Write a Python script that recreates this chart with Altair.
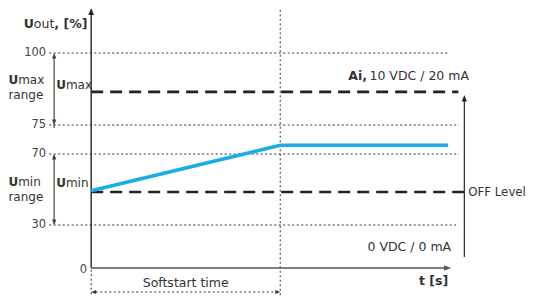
import altair as alt
import pandas as pd

# ---------------- data ----------------
# output curve (time in s, Uout in %)
curve_t = [0, 5, 9.44]
curve_u = [49.3, 71.5, 71.5]

# axis tick values / labels (schematic, non-linear axis)
tick_values = [100, 75, 70, 30]
tick_labels = ["100", "75", "70", "30"]

umax_level = 86.5
umin_level = 48.6
softstart_end = 5

# ---------------- scales ----------------
X = alt.Scale(domain=[-2.2, 11.5], range=[0, 518], nice=False, zero=False)
Y = alt.Scale(domain=[-20, 0, 30, 70, 75, 100, 110],
              range=[288.7, 260, 217, 146, 117, 45, 0], nice=False, zero=False)

FONT = "DejaVu Sans"
TXT = "#333333"


def rules(rows, color, width, dash=None):
    df = pd.DataFrame(rows, columns=["t", "t2", "v", "v2"])
    kw = dict(color=color, strokeWidth=width)
    if dash is not None:
        kw["strokeDash"] = dash
    return alt.Chart(df).mark_rule(**kw).encode(
        x=alt.X("t:Q", scale=X, axis=None),
        x2="t2:Q",
        y=alt.Y("v:Q", scale=Y, axis=None),
        y2="v2:Q",
    )


def heads(rows, path, size, color):
    df = pd.DataFrame(rows, columns=["t", "v"])
    return alt.Chart(df).mark_point(shape=path, filled=True, size=size,
                                    color=color, opacity=1, strokeWidth=0).encode(
        x=alt.X("t:Q", scale=X, axis=None),
        y=alt.Y("v:Q", scale=Y, axis=None),
    )


def texts(rows, weight="normal", align="left", color=TXT, size=12.5):
    df = pd.DataFrame(rows, columns=["t", "v", "label"])
    return alt.Chart(df).mark_text(font=FONT, fontSize=size, fontWeight=weight,
                                   align=align, baseline="middle", color=color).encode(
        x=alt.X("t:Q", scale=X, axis=None),
        y=alt.Y("v:Q", scale=Y, axis=None),
        text="label:N",
    )


UP = "M0,0L0.8,2L-0.8,2Z"
DOWN = "M0,0L0.8,-2L-0.8,-2Z"
RIGHT = "M0,0L-2,0.8L-2,-0.8Z"
LEFT = "M0,0L2,0.8L2,-0.8Z"

layers = []

# dotted guide lines
layers.append(rules([
    [-1.11, 9.44, 100, 100],
    [-1.11, 9.73, 75, 75],
    [-1.11, 9.73, 70, 70],
    [-1.11, 9.65, 30, 30],
    [0, 0, -1.2, -20],
    [softstart_end, softstart_end, 109.6, -20],
    [0.12, softstart_end - 0.12, -16.74, -16.74],
], "#333333", 1, [2, 2.5]))

# heavy dashed levels
layers.append(rules([
    [0, 9.71, umax_level, umax_level],
    [0, 9.87, umin_level, umin_level],
], "#222222", 2.6, [12, 7]))

# axes
layers.append(rules([[0, 0, 0, 108.5]], "#222222", 1.4))
layers.append(rules([[0, 9.35, 0, 0]], "#555555", 1.4))
# right vertical arrow line
layers.append(rules([[9.87, 9.87, 7.67, 84.6]], "#333333", 1.3))
# range arrows
layers.append(rules([[-0.979, -0.979, 74.5, 99.5], [-0.979, -0.979, 30.5, 69.5]],
                    "#555555", 1.3))

# output curve
curve = pd.DataFrame({"t": curve_t, "u": curve_u})
layers.append(alt.Chart(curve).mark_line(color="#1AADE4", strokeWidth=3.6).encode(
    x=alt.X("t:Q", scale=X, axis=None),
    y=alt.Y("u:Q", scale=Y, axis=None),
))

# arrow heads
layers.append(heads([[0, 110]], UP, 49, "#222222"))
layers.append(heads([[9.52, 0]], RIGHT, 49, "#555555"))
layers.append(heads([[9.87, 85.4]], UP, 42, "#222222"))
layers.append(heads([[-0.979, 100], [-0.979, 70]], UP, 30, "#444444"))
layers.append(heads([[-0.979, 75], [-0.979, 30]], DOWN, 30, "#444444"))
layers.append(heads([[0, -16.74]], LEFT, 25, "#333333"))
layers.append(heads([[softstart_end, -16.74]], RIGHT, 25, "#333333"))

# tick labels
tick_rows = [[-1.19, v, s] for v, s in zip(tick_values, tick_labels)]
tick_rows.append([-0.106, -1.4, "0"])
layers.append(texts(tick_rows, align="right", color="#444444", size=11.5))

# "Uout, [%]"
layers.append(texts([[-1.786, 106.44, "U"], [-0.974, 106.44, ", [%]"]],
                    weight="bold", size=12.5))
layers.append(texts([[-1.517, 106.44, "out"]], size=12.5))

# Umax / Umin labels
layers.append(texts([
    [-2.19, 90.6, "U"],
    [-0.926, 88.9, "U"],
    [-2.19, 54.2, "U"],
    [-0.926, 53.66, "U"],
], weight="bold", size=12))
layers.append(texts([
    [-1.932, 90.6, "max"],
    [-2.19, 85.4, "range"],
    [-0.668, 88.9, "max"],
    [-1.932, 54.2, "min"],
    [-2.19, 45.8, "range"],
    [-0.668, 53.66, "min"],
], size=12))

# right-side annotations
layers.append(texts([[6.80, 92.0, "Ai,"]], weight="bold"))
layers.append(texts([[9.44, -9.07, "t [s]"]], weight="bold", align="right"))
layers.append(texts([[7.36, 92.0, "10 VDC / 20 mA"]]))
layers.append(texts([[9.97, umin_level, "OFF Level"]], size=11.8))
layers.append(texts([[9.52, 14.65, "0 VDC / 0 mA"]], align="right"))
layers.append(texts([[softstart_end / 2, -10.47, "Softstart time"]], align="center"))

chart = alt.layer(*layers).properties(
    width=518, height=288,
    autosize=alt.AutoSizeParams(type="none"),
    padding=0,
    background="white",
).configure_view(stroke=None)

chart.save("out.html", embed_options={"renderer": "svg", "actions": False})
